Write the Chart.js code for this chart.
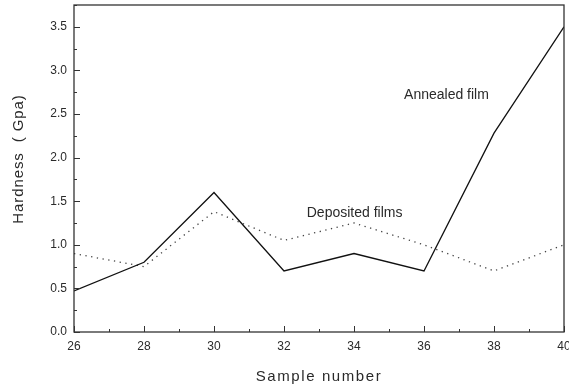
<!DOCTYPE html>
<html>
<head>
<meta charset="utf-8">
<script src="https://cdn.jsdelivr.net/npm/chart.js@4"></script>
<style>
  html, body { margin: 0; padding: 0; background: #fff; }
  #wrap { width: 569px; height: 390px; position: relative; }
</style>
</head>
<body>
<div id="wrap"><canvas id="hardness"></canvas></div>
<script>
const samples = [26, 28, 30, 32, 34, 36, 38, 40];
const annealed = [0.47, 0.80, 1.60, 0.70, 0.90, 0.70, 2.28, 3.50];
const deposited = [0.90, 0.75, 1.38, 1.05, 1.25, 1.00, 0.70, 1.00];

const labelNotes = [
  { text: 'Annealed film', x: 35.43, y: 2.72 },
  { text: 'Deposited films', x: 32.65, y: 1.36 }
];
const xTitle = 'Sample number';
const yTitle = 'Hardness  ( Gpa)';

const ink = '#2a2a2a';
const fam = '"Liberation Sans", Arial, sans-serif';

// frame, inward ticks, axis titles and the two text notes
const framePlugin = {
  id: 'frame',
  afterDraw(c) {
    const ctx = c.ctx, a = c.chartArea;
    const xs = c.scales.x, ys = c.scales.y;
    ctx.save();
    ctx.strokeStyle = '#333';
    ctx.lineWidth = 1.3;
    ctx.strokeRect(a.left, a.top, a.right - a.left, a.bottom - a.top);
    ctx.lineWidth = 1;
    for (let v = 26; v <= 40; v += 1) {
      const px = Math.round(xs.getPixelForValue(v)) + 0.5;
      const len = v % 2 === 0 ? 6 : 3;
      ctx.beginPath();
      ctx.moveTo(px, a.bottom);
      ctx.lineTo(px, a.bottom - len);
      ctx.stroke();
    }
    for (let v = 0; v <= 3.75; v += 0.25) {
      const py = Math.round(ys.getPixelForValue(v)) + 0.5;
      const len = Math.abs(v * 2 - Math.round(v * 2)) < 1e-6 ? 6 : 3;
      ctx.beginPath();
      ctx.moveTo(a.left, py);
      ctx.lineTo(a.left + len, py);
      ctx.stroke();
    }
    ctx.fillStyle = ink;
    ctx.font = '14px ' + fam;
    ctx.textBaseline = 'middle';
    ctx.textAlign = 'left';
    labelNotes.forEach(n => {
      ctx.fillText(n.text, xs.getPixelForValue(n.x), ys.getPixelForValue(n.y));
    });

    ctx.font = '15px ' + fam;
    ctx.letterSpacing = '1.6px';
    ctx.textAlign = 'center';
    ctx.fillText(xTitle, (a.left + a.right) / 2, 377);
    ctx.translate(19, 159);
    ctx.rotate(-Math.PI / 2);
    ctx.letterSpacing = '0.9px';
    ctx.fillText(yTitle, 0, 0);
    ctx.restore();
  }
};

new Chart(document.getElementById('hardness'), {
  type: 'line',
  data: {
    datasets: [
      {
        label: 'Annealed film',
        data: samples.map((s, i) => ({ x: s, y: annealed[i] })),
        borderColor: '#111',
        borderWidth: 1.3,
        pointRadius: 0,
        tension: 0
      },
      {
        label: 'Deposited films',
        data: samples.map((s, i) => ({ x: s, y: deposited[i] })),
        borderColor: '#444',
        borderWidth: 1.3,
        borderDash: [1.3, 4.5],
        pointRadius: 0,
        tension: 0
      }
    ]
  },
  options: {
    responsive: true,
    maintainAspectRatio: false,
    animation: false,
    layout: { padding: { top: 5, right: 5, left: 0, bottom: 0 } },
    plugins: { legend: { display: false }, tooltip: { enabled: false } },
    scales: {
      x: {
        type: 'linear',
        min: 26,
        max: 40,
        afterFit(s) { s.height = 58; s.paddingLeft = 0; s.paddingRight = 0; },
        grid: { display: false, drawTicks: false },
        border: { display: false },
        ticks: {
          stepSize: 2,
          padding: 7,
          color: ink,
          font: { family: fam, size: 12 }
        }
      },
      y: {
        min: 0,
        max: 3.75,
        afterFit(s) { s.width = 74; s.paddingTop = 0; s.paddingBottom = 0; },
        afterBuildTicks(s) {
          s.ticks = s.ticks.filter(t => t.value <= 3.5);
        },
        grid: { display: false, drawTicks: false },
        border: { display: false },
        ticks: {
          stepSize: 0.5,
          padding: 7,
          color: ink,
          callback: v => v.toFixed(1),
          font: { family: fam, size: 12 }
        }
      }
    }
  },
  plugins: [framePlugin]
});
</script>
</body>
</html>
